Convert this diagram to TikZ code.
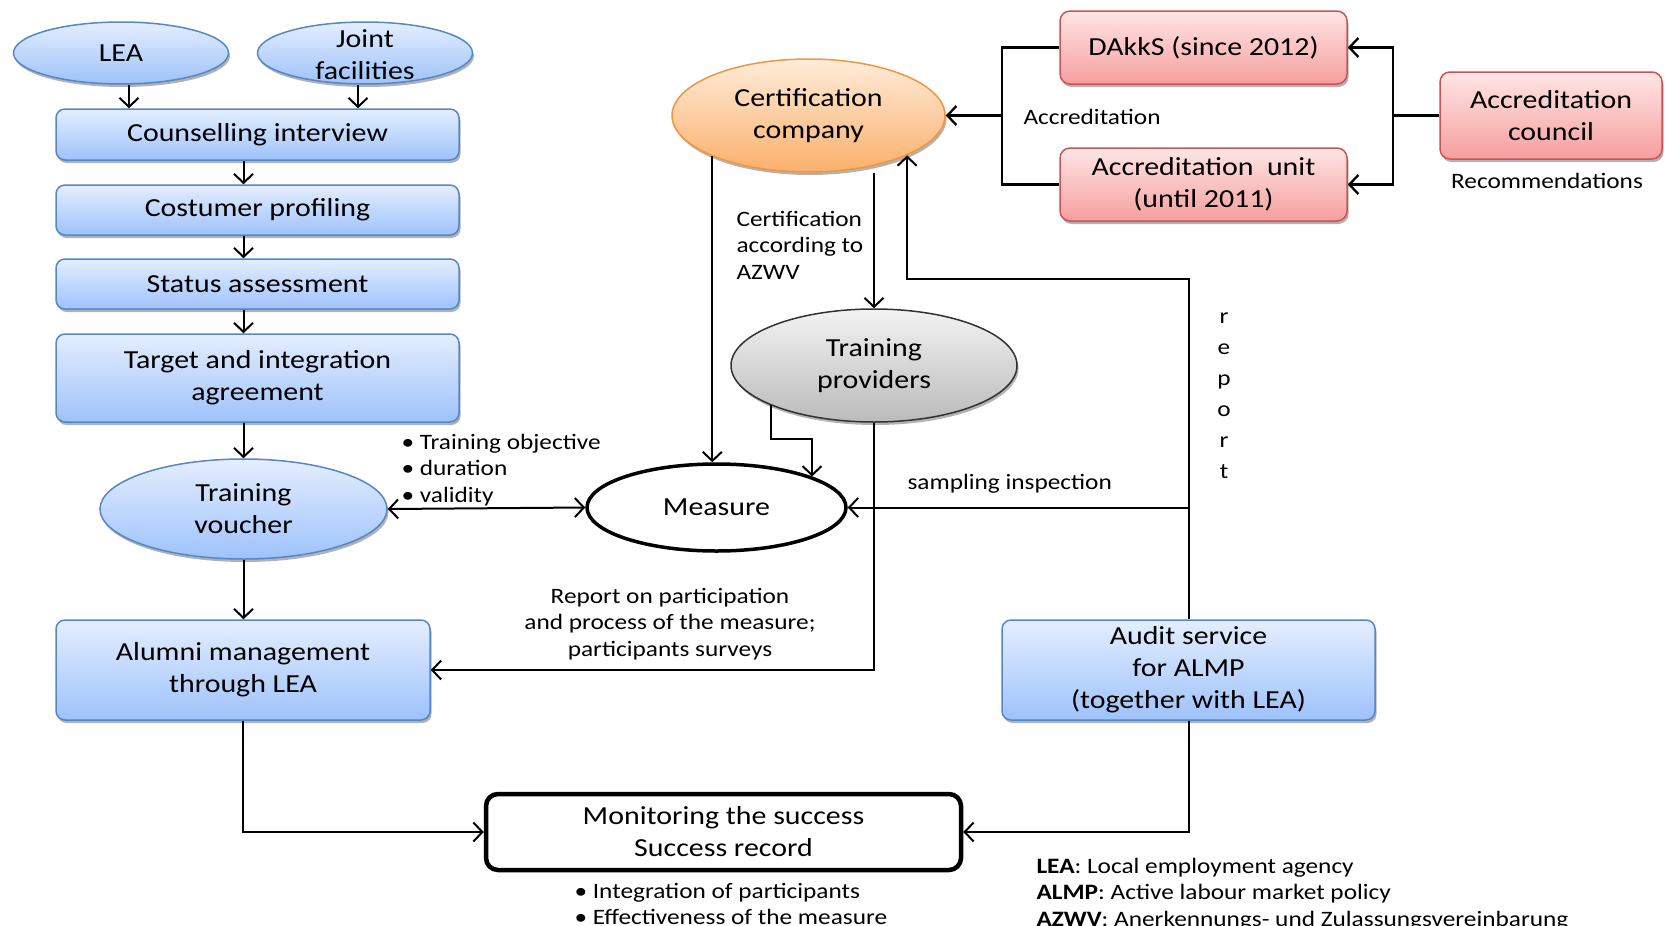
\documentclass[tikz,border=0pt]{standalone}
\usepackage{fontspec}
\setmainfont{Carlito}[FakeStretch=1.15]
\usetikzlibrary{arrows.meta,shapes.geometric,shadows,calc}

\definecolor{blueT}{RGB}{228,238,255}
\definecolor{blueB}{RGB}{158,194,250}
\definecolor{blueD}{RGB}{85,135,200}
\definecolor{redT}{RGB}{255,230,230}
\definecolor{redB}{RGB}{246,158,158}
\definecolor{redD}{RGB}{200,85,85}
\definecolor{orT}{RGB}{255,236,218}
\definecolor{orB}{RGB}{250,176,108}
\definecolor{orD}{RGB}{242,150,60}
\definecolor{grT}{RGB}{243,243,243}
\definecolor{grB}{RGB}{186,186,186}
\definecolor{grD}{RGB}{50,50,50}

\tikzset{
  x=1pt, y=-1pt,
  mainfont/.style={font=\fontsize{26}{32}\selectfont},
  smallfont/.style={font=\fontsize{22}{26.5}\selectfont},
  shad/.style={drop shadow={shadow xshift=1.5pt, shadow yshift=-3pt, opacity=0.3, fill=black}},
  bluebox/.style={rectangle, rounded corners=9pt, draw=blueD, line width=1.5pt, top color=blueT, bottom color=blueB, shad, mainfont, align=center, inner sep=0pt},
  blueell/.style={ellipse, draw=blueD, line width=1.5pt, top color=blueT, bottom color=blueB, shad, mainfont, align=center, inner sep=0pt},
  redbox/.style={rectangle, rounded corners=10pt, draw=redD, line width=1.5pt, top color=redT, bottom color=redB, shad, mainfont, align=center, inner sep=0pt},
  orell/.style={ellipse, draw=orD, line width=1.5pt, top color=orT, bottom color=orB, shad, mainfont, align=center, inner sep=0pt},
  grell/.style={ellipse, draw=grD, line width=1.5pt, top color=grT, bottom color=grB, shad, mainfont, align=center, inner sep=0pt},
  arr/.style={line width=2pt, -{Straight Barb[length=9pt,width=19pt]}},
  darr/.style={line width=2pt, {Straight Barb[length=9pt,width=19pt]}-{Straight Barb[length=9pt,width=19pt]}},
  conn/.style={line width=2.3pt},
}

\begin{document}
\begin{tikzpicture}
\useasboundingbox (0,0) rectangle (1665,926);

% left column
\node[blueell, minimum width=215pt, minimum height=62pt] (lea) at (121,53) {LEA};
\node[blueell, minimum width=215pt, minimum height=62pt,
      label={[mainfont, align=center, yshift=-2pt]center:Joint\\facilities}] (joint) at (365,53) {};
\node[bluebox, minimum width=403pt, minimum height=51pt] (couns) at (257.5,134.5) {Counselling interview};
\node[bluebox, minimum width=403pt, minimum height=50pt] (prof) at (257.5,210) {Costumer profiling};
\node[bluebox, minimum width=403pt, minimum height=50pt] (status) at (257.5,284) {Status assessment};
\node[bluebox, minimum width=403pt, minimum height=88pt] (target) at (257.5,378) {Target and integration\\agreement};
\node[blueell, minimum width=287pt, minimum height=100pt] (voucher) at (243.5,509) {Training\\voucher};
\node[bluebox, minimum width=374pt, minimum height=100pt] (alumni) at (243,670) {Alumni management\\through LEA};

% centre
\node[draw=black, line width=4.5pt, rectangle, rounded corners=12pt, fill=white, mainfont, align=center,
      inner sep=0pt, minimum width=475pt, minimum height=76pt] (mon) at (723.5,832) {Monitoring the success\\Success record};
\node[draw=black, line width=3.5pt, ellipse, fill=white, mainfont, inner sep=0pt,
      minimum width=259pt, minimum height=87pt] (measure) at (716.5,507.5) {Measure};
\node[grell, minimum width=286pt, minimum height=113pt] (tp) at (874,365.5) {Training\\providers};
\node[orell, minimum width=273pt, minimum height=113pt] (cert) at (808.5,115.5) {Certification\\company};

% right
\node[redbox, minimum width=287pt, minimum height=73pt] (dakks) at (1203.5,47.5) {DAkkS (since 2012)};
\node[redbox, minimum width=287pt, minimum height=73pt] (unit) at (1203.5,184.5) {Accreditation~ unit\\(until 2011)};
\node[redbox, minimum width=222pt, minimum height=87pt] (council) at (1551,115.5) {Accreditation\\council};
\node[bluebox, minimum width=373pt, minimum height=100pt] (audit) at (1188.5,670) {Audit service\\for ALMP\\(together with LEA)};

% helper coordinates
\coordinate (brL) at (1002,115.5);
\coordinate (brR) at (1393,115.5);
\coordinate (rpy) at (0,279);
\coordinate (tpm) at (0,439);

% left column arrows
\draw[arr] ([xshift=8pt]lea.south) -- ([xshift=8pt]lea.south |- couns.north);
\draw[arr] ([xshift=-7pt]joint.south) -- ([xshift=-7pt]joint.south |- couns.north);
\draw[arr] ([xshift=-14pt]couns.south) -- ([xshift=-14pt]prof.north);
\draw[arr] ([xshift=-14pt]prof.south) -- ([xshift=-14pt]status.north);
\draw[arr] ([xshift=-14pt]status.south) -- ([xshift=-14pt]target.north);
\draw[arr] (voucher.north |- target.south) -- (voucher.north);
\draw[arr] (voucher.south) -- (voucher.south |- alumni.north);
\draw[darr] (voucher.east) -- (measure.west);
\draw[arr] (alumni.south) |- (mon.west);

% accreditation
\draw[conn] (dakks.west) -| (brL) |- (unit.west);
\draw[arr, line width=2.3pt] (brL) -- (cert.east);
\draw[conn] (council.west) -- (brR);
\draw[arr, line width=2.3pt] (brR) |- (dakks.east);
\draw[arr, line width=2.3pt] (brR) |- (unit.east);

% certification and providers
\draw[arr] (cert.203) -- (cert.203 |- measure.north);
\draw[arr] (tp.north |- cert.south) -- (tp.north);
\draw[arr] (tp.201) -- (tp.201 |- tpm) -| (measure.18.6);
\draw[arr] (tp.south) |- (alumni.east);

% audit
\draw[arr] (audit.north) -- (audit.north |- rpy) -| (cert.-22.5);
\draw[arr] (audit.north |- measure.east) -- (measure.east);
\draw[arr] (audit.south) |- (mon.east);

% labels
\node[smallfont, anchor=west] (accl) at (1020,117) {Accreditation};
\node[smallfont] (recl) at (1547,181) {Recommendations};
\node[smallfont, anchor=west, align=left] (certl) at (733,245) {Certification\\according to\\AZWV};
\node[smallfont, align=center, font=\fontsize{22}{31}\selectfont] (repl) at (1224,396) {r\\e\\p\\o\\r\\t};
\node[smallfont, anchor=west] (sampl) at (904,484) {sampling inspection};
\node[smallfont, anchor=west, align=left] (bul) at (398,470) {• Training objective\\• duration\\• validity};
\node[smallfont, align=center] (repp) at (670,624) {Report on participation\\and process of the measure;\\participants surveys};
\node[smallfont, anchor=west, align=left] (monb) at (571,904) {• Integration of participants\\• Effectiveness of the measure};
\node[smallfont, anchor=west, align=left] (leg) at (1033,894) {\textbf{LEA}: Local employment agency\\\textbf{ALMP}: Active labour market policy\\\textbf{AZWV}: Anerkennungs- und Zulassungsvereinbarung};
\end{tikzpicture}
\end{document}
